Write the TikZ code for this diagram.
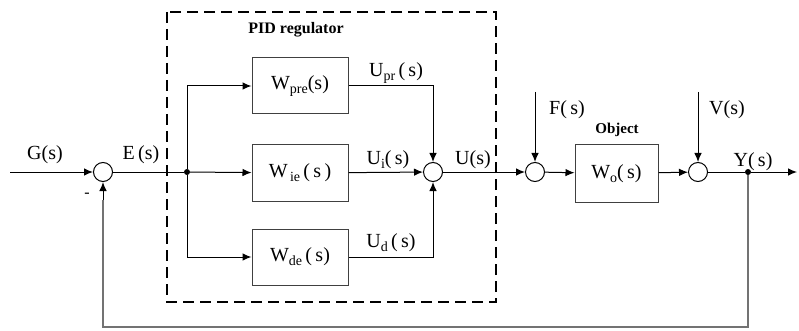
\documentclass[tikz,border=0pt]{standalone}
\usepackage{fontspec}
\setmainfont{Liberation Serif}
\usetikzlibrary{arrows.meta}
\newcommand{\lowsub}[1]{\raisebox{-0.45ex}{\fontsize{14}{14}\selectfont #1}}
\begin{document}
\begin{tikzpicture}[x=1pt,y=-1pt,
 blk/.style={draw=black!75,line width=1pt,minimum width=96pt,minimum height=56pt,inner sep=0pt,font=\fontsize{20}{22}\selectfont},
 sumc/.style={draw,circle,line width=1pt,minimum size=19pt,inner sep=0pt},
 lbl/.style={font=\fontsize{20}{22}\selectfont,inner sep=0pt},
 ttl/.style={font=\fontsize{16}{19}\selectfont\bfseries,inner sep=0pt},
 dot/.style={circle,fill,minimum size=6pt,inner sep=0pt},
 ar/.style={-{Latex[length=9pt,width=7.5pt]},line width=1pt},
 ln/.style={line width=1pt},
 gln/.style={line width=1.6pt,draw=black!55}]
\useasboundingbox (0,0) rectangle (799,331);
% dashed PID frame
\draw[line width=2pt,dash pattern=on 11pt off 6pt] (167,12) rectangle (496,302);
\node[ttl] (pidt) at (296,30) {PID regulator};
% nodes
\coordinate (in) at (10,172);
\node[sumc] (s1) at (103,172) {};
\node[dot] (b1) at (187,172) {};
\node[blk] (wpre) at (300,86) {W\lowsub{pre}(s)};
\node[blk] (wie) at (300,173) {W\lowsub{\,ie}\,(\,s\,)};
\node[blk] (wde) at (300,257) {W\lowsub{de}\,(\,s)};
\node[sumc] (s2) at (433,172) {};
\node[sumc] (s3) at (535,172) {};
\node[blk,minimum width=83pt,minimum height=57pt] (wo) at (616.5,173.5) {W\lowsub{o}(\,s)};
\node[sumc] (s4) at (698,172) {};
\node[dot] (b2) at (748,172) {};
\coordinate (out) at (797,172);
\coordinate (ftop) at (535,92);
\coordinate (vtop) at (698,92);
\coordinate (fb1) at (748,327);
\coordinate (fb2) at (103,327);
% connectors
\draw[ar] (in) -- (s1);
\draw[ln] (s1) -- (b1);
\draw[ar] (b1) -- (wie);
\draw[ar] (b1) |- (wpre);
\draw[ar] (b1) |- (wde);
\draw[ln] (wpre.east) -| (433,150);
\draw[ar] (433,150) -- (s2.north);
\draw[ar] (wie) -- (s2);
\draw[ln] (wde.east) -| (433,200);
\draw[ar] (433,200) -- (s2.south);
\draw[ar] (s2) -- (s3);
\draw[ar] (ftop) -- (s3);
\draw[ar] (s3) -- (wo);
\draw[ar] (wo) -- (s4);
\draw[ar] (vtop) -- (s4);
\draw[ln] (s4) -- (b2);
\draw[ar] (b2) -- (out);
\draw[gln] (b2) -- (fb1) -- (fb2) -- (103,200);
\draw[ar] (103,200) -- (s1.south);
% labels
\node[lbl] (gl) at (45,155) {G(s)};
\node[lbl] (el) at (141,155) {E\,(s)};
\node[lbl,font=\fontsize{16}{18}\selectfont] (ml) at (87,195) {-};
\node[lbl] (upl) at (396,73) {U\lowsub{pr}\,(\,s)};
\node[lbl] (uil) at (388,160) {U\lowsub{i}(\,s)};
\node[lbl] (udl) at (391,243) {U\lowsub{d}\,(\,s)};
\node[lbl] (ul) at (473,160) {U(s)};
\node[lbl] (fl) at (567,110) {F(\,s)};
\node[ttl,font=\fontsize{15}{18}\selectfont\bfseries] (objl) at (617,130) {Object};
\node[lbl] (vl) at (727,110) {V(s)};
\node[lbl] (yl) at (753,162) {Y(\,s)};
\end{tikzpicture}
\end{document}
